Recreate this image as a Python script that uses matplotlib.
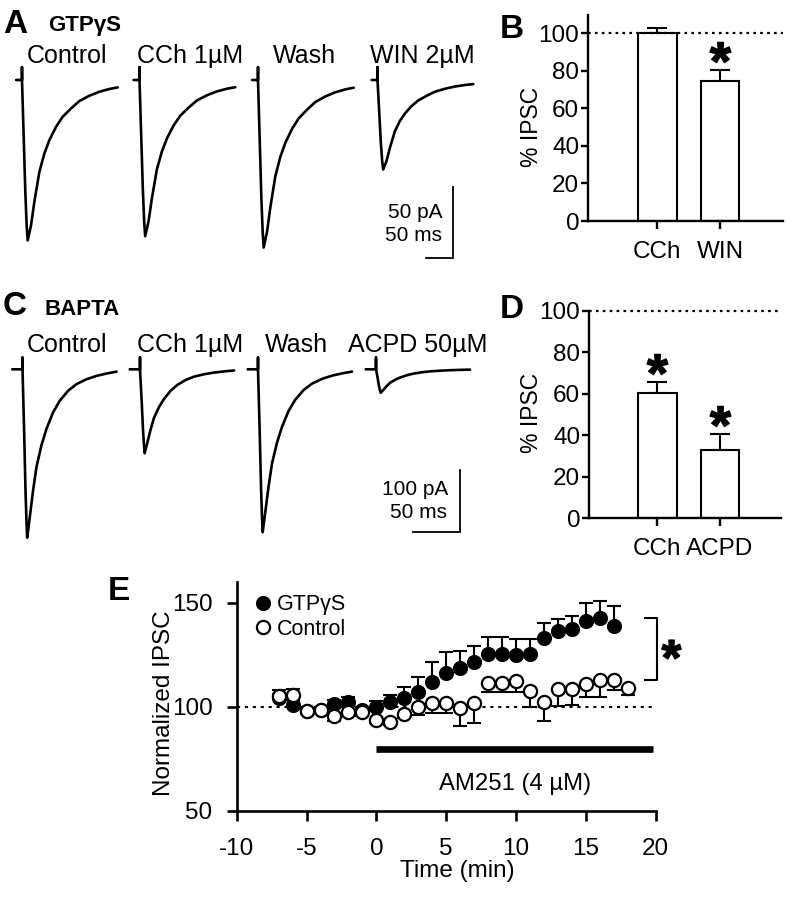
import numpy as np
import matplotlib
matplotlib.use("Agg")
import matplotlib.pyplot as plt
from matplotlib.transforms import offset_copy

plt.rcParams['font.family'] = ['Liberation Sans', 'DejaVu Sans']
plt.rcParams['mathtext.fontset'] = 'custom'
plt.rcParams['mathtext.bf'] = 'Liberation Sans:bold'
plt.rcParams['mathtext.rm'] = 'Liberation Sans'
plt.rcParams['axes.unicode_minus'] = False

W, H = 786, 899

# ---------------- Panel A: example IPSCs (GTPγS) ----------------
a_conditions = ['Control', 'CCh 1µM', 'Wash', 'WIN 2µM']
a_peak_pA = [113, 110, 118, 63]
a_wave_ms = [0, 2.5, 6.25, 8.75, 10.6, 16.9, 23.1, 32.5, 41.9, 51.2, 63.7,
             76.2, 91.9, 107.5, 126.2, 145, 163.6, 179.4]
a_wave_frac = [0, 0.28, 0.70, 0.906, 1.0, 0.906, 0.76, 0.573, 0.458, 0.375,
               0.292, 0.229, 0.177, 0.131, 0.098, 0.073, 0.056, 0.046]
a_scale = ('50 pA', '50 ms')

# ---------------- Panel C: example IPSCs (BAPTA) ----------------
c_conditions = ['Control', 'CCh 1µM', 'Wash', 'ACPD 50µM']
c_peak_pA = [273, 136, 264, 38]
c_wave_ms = [0, 1.8, 3.2, 4.3, 5.0, 7.9, 11.4, 15, 20.3, 25.7, 32.8, 40,
             48.9, 57.8, 68.5, 79.3, 90, 100.7]
c_wave_frac = [0, 0.38, 0.716, 0.91, 1.0, 0.873, 0.716, 0.578, 0.451, 0.353,
               0.255, 0.186, 0.127, 0.088, 0.059, 0.039, 0.025, 0.014]
c_scale = ('100 pA', '50 ms')

# ---------------- Panel B / D: % IPSC ----------------
b_groups = ['CCh', 'WIN']
b_pct = [100, 74.7]
b_sem = [3, 5.7]
b_sig = [False, True]

d_groups = ['CCh', 'ACPD']
d_pct = [60.5, 32.9]
d_sem = [5.3, 7.7]
d_sig = [True, True]

# ---------------- Panel E: time course ----------------
e_time_gtp = [-7, -6, -5, -4, -3, -2, -1, 0, 1, 2, 3, 4, 5, 6, 7, 8, 9, 10,
              11, 12, 13, 14, 15, 16, 17]
e_gtp = [104, 101, 98, 98.5, 101.4, 102, 98.5, 99.8, 102, 104, 107, 111.7,
         116, 118.5, 121.5, 125.5, 125.5, 125, 125.5, 133, 136.5, 137.3, 141,
         142.5, 138.5]
e_gtp_sem = [2, 2, 1.5, 1.5, 2, 2.4, 1.5, 3, 3.5, 5.6, 7.2, 9.5, 10, 8, 7.7,
             8, 8, 7.7, 7, 7, 5.6, 6.4, 8.8, 8, 9.6]
e_time_ctl = [-7, -6, -5, -4, -3, -2, -1, 0, 1, 2, 3, 4, 5, 6, 7, 8, 9, 10,
              11, 12, 13, 14, 15, 16, 17, 18]
e_ctl = [105, 105.5, 98, 98.5, 95.5, 97.5, 97.5, 93.5, 92.5, 96.5, 99.8,
         101.8, 101.8, 99.5, 101.8, 111.5, 111.5, 112.5, 107.5, 102, 108.3,
         108.6, 111, 112.8, 112.8, 108.8]
e_ctl_sem_lo = [0, 0, 1.5, 1.5, 2.4, 1.5, 2, 1.5, 1.5, 2, 4, 4.8, 4.8, 8.8,
                9.6, 4.5, 4.5, 5.6, 7.7, 8.8, 8, 8, 6.5, 8, 5, 3]
e_ctl_sem_hi = [3, 3, 0, 0, 0, 0, 0, 0, 0, 0, 0, 0, 0, 0, 0, 0, 0, 0, 0, 0,
                0, 0, 0, 0, 0, 0]
e_xticks = [-10, -5, 0, 5, 10, 15, 20]
e_yticks = [50, 100, 150]
am251_window = [0, 19.8]

TICK_FS = 17.5
LBL_FS = 17.5
PANEL_FS = 24
SUB_FS = 16

fig = plt.figure(figsize=(W / 100, H / 100), dpi=100)


def box(x0, y0, x1, y1):
    return [x0 / W, 1 - y1 / H, (x1 - x0) / W, (y1 - y0) / H]


def ftext(x, y, s, **kw):
    return fig.text(x / W, 1 - y / H, s, **kw)


def trace_panel(box_px, base_px, px_ms, px_pA, onsets_px, peaks, wt, wf,
                art_pA, pre_ms, bar_px, scale_vals):
    x0, y0, x1, y1 = box_px
    ax = fig.add_axes(box(x0, y0, x1, y1))
    ax.set_xlim(0, (x1 - x0) / px_ms)
    ax.set_ylim(-(y1 - base_px) / px_pA, (base_px - y0) / px_pA)
    ax.axis('off')
    for on_px, pk in zip(onsets_px, peaks):
        on = (on_px - x0) / px_ms
        xs = [on - pre_ms, on, on] + [on + t for t in wt]
        ys = [0, 0, art_pA] + [-pk * f for f in wf]
        ax.plot(xs, ys, color='black', lw=1.9, solid_joinstyle='round',
                solid_capstyle='round')
    bx, by = bar_px
    xs = (bx - x0) / px_ms
    yb = -(by - base_px) / px_pA
    pA, ms = scale_vals
    ax.plot([xs - ms, xs, xs], [yb, yb, yb + pA], color='black', lw=1.3,
            solid_joinstyle='miter')
    return ax


# ---- A ----
trace_panel((0, 40, 500, 290), 80, 0.534, 1.42, [22, 139.5, 258, 377.5],
            a_peak_pA, a_wave_ms, a_wave_frac, 9, 11, (453, 258), (50, 50))
ftext(3, 33, 'A', fontsize=PANEL_FS, fontweight='bold')
ftext(48, 31, 'GTPγS', fontsize=SUB_FS, fontweight='bold')
for xl, s in zip([27, 137, 273, 370], a_conditions):
    ftext(xl, 63, s, fontsize=18)
ftext(442, 218, a_scale[0], fontsize=15, ha='right')
ftext(442, 241, a_scale[1], fontsize=15, ha='right')

# ---- C ----
trace_panel((0, 325, 500, 560), 369.3, 0.934, 0.617, [22.5, 140, 258, 376],
            c_peak_pA, c_wave_ms, c_wave_frac, 19, 11, (460, 531.7),
            (100, 50))
ftext(3, 315, 'C', fontsize=PANEL_FS, fontweight='bold')
ftext(45, 315, 'BAPTA', fontsize=SUB_FS, fontweight='bold')
for xl, s in zip([27, 137, 265, 348], c_conditions):
    ftext(xl, 352, s, fontsize=18)
ftext(448, 495, c_scale[0], fontsize=15, ha='right')
ftext(447, 518, c_scale[1], fontsize=15, ha='right')


# ---- bar panels ----
def bar_panel(box_px, ymax, xl, groups, vals, sems, sig, ylab_center):
    ax = fig.add_axes(box(*box_px))
    pos = np.arange(1, len(groups) + 1)
    ax.bar(pos, vals, width=0.616, color='white', edgecolor='black',
           linewidth=1.5, zorder=2)
    ax.errorbar(pos, vals, yerr=[np.zeros(len(vals)), sems], fmt='none',
                ecolor='black', elinewidth=1.5, capsize=7.5, capthick=1.5,
                zorder=1)
    ax.axhline(100, color='black', lw=1.6, ls=(0, (1.2, 1.9)), clip_on=False,
               zorder=3)
    star_tr = offset_copy(ax.transData, fig=fig, y=13, units='points')
    for p, v, s, g in zip(pos, vals, sems, sig):
        if g:
            ax.plot([p], [v + s], marker='$\\mathbf{*}$', ms=15,
                    color='black', transform=star_tr, clip_on=False)
    ax.set_xlim(*xl)
    ax.set_ylim(0, ymax)
    ax.set_xticks(pos)
    ax.set_xticklabels(groups)
    ax.set_yticks([0, 20, 40, 60, 80, 100])
    for side in ['top', 'right']:
        ax.spines[side].set_visible(False)
    for side in ['left', 'bottom']:
        ax.spines[side].set_linewidth(1.7)
    ax.tick_params(axis='y', direction='out', length=5, width=1.7,
                   labelsize=TICK_FS, pad=1.5)
    ax.tick_params(axis='x', direction='out', length=6, width=1.7,
                   labelsize=TICK_FS, pad=8.5)
    ftext(ylab_center[0], ylab_center[1], '% IPSC', fontsize=16.5,
          rotation=90, ha='center', va='center')
    return ax


bar_panel((588.3, 14.5, 783, 221), 110, (-0.107, 3.008), b_groups, b_pct,
          b_sem, b_sig, (531.7, 126.7))
ftext(500, 38, 'B', fontsize=PANEL_FS, fontweight='bold')
bar_panel((589.3, 310.7, 781, 518.3), 100, (-0.096, 2.985), d_groups, d_pct,
          d_sem, d_sig, (531.7, 413.3))
ftext(500, 318, 'D', fontsize=PANEL_FS, fontweight='bold')

# ---- E ----
ax = fig.add_axes(box(236.7, 581.7, 655.7, 810.7))
ax.set_xlim(-10, 20)
ax.set_ylim(50, 160)
ax.axhline(100, color='black', lw=1.5, ls=(0, (1.5, 2.3)), zorder=1)
ax.errorbar(e_time_gtp, e_gtp, yerr=[np.zeros(len(e_gtp)), e_gtp_sem],
            fmt='none', ecolor='black', elinewidth=1.5, capsize=4.7,
            capthick=1.5, zorder=2)
ax.errorbar(e_time_ctl, e_ctl, yerr=[e_ctl_sem_lo, e_ctl_sem_hi], fmt='none',
            ecolor='black', elinewidth=1.5, capsize=4.7, capthick=1.5,
            zorder=2.5)
h1, = ax.plot(e_time_gtp, e_gtp, 'o', ms=9.5, mfc='black', mec='black',
              mew=1.4, zorder=3, label='GTPγS')
h2, = ax.plot(e_time_ctl, e_ctl, 'o', ms=9.5, mfc='white', mec='black',
              mew=1.6, zorder=4, label='Control')
ax.plot(am251_window, [79.4, 79.4], color='black', lw=4.8,
        solid_capstyle='butt')
ax.text(np.mean(am251_window), 60, 'AM251 (4 µM)', fontsize=17.2,
        ha='center', va='baseline')
top = max(e_gtp)
bot = max(e_ctl[-3:])
ax.plot([19.2, 20.1, 20.1, 19.2], [top, top, bot, bot], color='black',
        lw=1.5, clip_on=False)
ax.plot([21.1], [(top + bot) / 2], marker='$\\mathbf{*}$', ms=14,
        color='black', clip_on=False)
ax.legend(handles=[h1, h2], loc='upper left', bbox_to_anchor=(0.043, 0.945),
          frameon=False, handlelength=0.8, handletextpad=0.25,
          labelspacing=0.17, borderaxespad=0, borderpad=0, fontsize=15.5)
ax.set_xticks(e_xticks)
ax.set_yticks(e_yticks)
for side in ['top', 'right']:
    ax.spines[side].set_visible(False)
for side in ['left', 'bottom']:
    ax.spines[side].set_linewidth(1.9)
ax.tick_params(axis='y', direction='out', length=7.5, width=1.9,
               labelsize=TICK_FS, pad=10)
ax.tick_params(axis='x', direction='out', length=7.5, width=1.9,
               labelsize=TICK_FS, pad=12.5)
ftext(164, 703, 'Normalized IPSC', fontsize=LBL_FS, rotation=90,
      ha='center', va='center')
ftext(457, 871, 'Time (min)', fontsize=LBL_FS, ha='center', va='center')
ftext(108, 600, 'E', fontsize=PANEL_FS, fontweight='bold')

fig.savefig('out.png', dpi=100)
